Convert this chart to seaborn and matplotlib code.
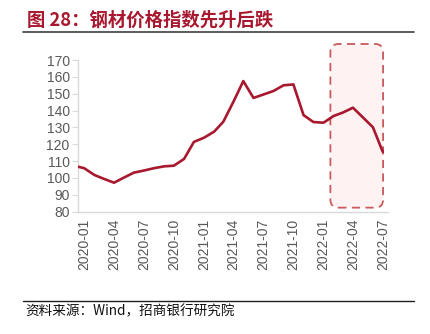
import numpy as np
import pandas as pd
import matplotlib
matplotlib.use("Agg")
import matplotlib.pyplot as plt
import seaborn as sns
from matplotlib.patches import FancyBboxPatch
from matplotlib.lines import Line2D
import matplotlib.dates as mdates

# ---- data ----
dates = ["2019-12-13",
         "2020-01-01", "2020-02-01", "2020-03-01", "2020-04-01", "2020-05-01", "2020-06-01",
         "2020-07-01", "2020-08-01", "2020-09-01", "2020-10-01", "2020-11-01", "2020-12-01",
         "2021-01-01", "2021-02-01", "2021-03-01", "2021-04-01", "2021-05-01", "2021-06-01",
         "2021-07-01", "2021-08-01", "2021-09-01", "2021-10-01", "2021-11-01", "2021-12-01",
         "2022-01-01", "2022-02-01", "2022-03-01", "2022-04-01", "2022-05-01", "2022-06-01",
         "2022-07-01"]
values = [106.7,
          105.8, 101.8, 99.5, 97.2, 100.2, 103.2,
          104.4, 105.8, 106.9, 107.3, 111.3, 121.4,
          123.9, 127.5, 133.4, 145.3, 157.5, 147.5,
          149.5, 151.6, 155.0, 155.5, 137.3, 133.2,
          132.8, 136.8, 138.8, 141.7, 136.0, 130.1,
          115.5]
tick_dates = ["2020-01-01", "2020-04-01", "2020-07-01", "2020-10-01", "2021-01-01",
              "2021-04-01", "2021-07-01", "2021-10-01", "2022-01-01", "2022-04-01",
              "2022-07-01"]
y_ticks = [80, 90, 100, 110, 120, 130, 140, 150, 160, 170]
highlight_start = "2022-01-22"
highlight_end = "2022-07-02"
highlight_low, highlight_high = 82.4, 179.5

title = "图 28：钢材价格指数先升后跌"
source = "资料来源：Wind，招商银行研究院"

df = pd.DataFrame({"date": pd.to_datetime(dates), "value": values})

sns.set_style("white")
plt.rcParams["font.family"] = ["Liberation Sans", "Noto Sans CJK SC", "DejaVu Sans"]

W, H = 430, 334
fig = plt.figure(figsize=(W / 100, H / 100), dpi=100)
ax = fig.add_axes([78 / W, 1 - 211.7 / H, 310 / W, (211.7 - 60) / H])

line_color = "#a8182e"
sns.lineplot(data=df, x="date", y="value", ax=ax, color=line_color, linewidth=1.9, zorder=3)

ax.set_ylim(80, 170)
ax.set_yticks(y_ticks)
ax.set_xlim(pd.Timestamp(dates[0]), pd.Timestamp("2022-07-17"))
ax.set_xticks(pd.to_datetime(tick_dates))
ax.xaxis.set_major_formatter(mdates.DateFormatter("%Y-%m"))
ax.set_xlabel("")
ax.set_ylabel("")

grey = "#595959"
for lab in ax.get_xticklabels():
    lab.set_rotation(90)
ax.tick_params(axis="x", labelsize=10, colors=grey, length=0, pad=5)
ax.tick_params(axis="y", labelsize=10, colors=grey, length=4, width=0.8, pad=2, left=True)
ax.tick_params(axis="y", color="#d9d9d9")
for lab in ax.get_yticklabels():
    lab.set_color(grey)

for s in ["top", "right"]:
    ax.spines[s].set_visible(False)
for s in ["left", "bottom"]:
    ax.spines[s].set_color("#d9d9d9")
    ax.spines[s].set_linewidth(1.0)

# highlight box (rounded, dashed) in pixel coordinates derived from data
fig.canvas.draw()
x0n = mdates.date2num(pd.Timestamp(highlight_start))
x1n = mdates.date2num(pd.Timestamp(highlight_end))
(px0, py0) = ax.transData.transform((x0n, highlight_low))
(px1, py1) = ax.transData.transform((x1n, highlight_high))
box = FancyBboxPatch((px0, py0), px1 - px0, py1 - py0,
                     boxstyle="round,pad=0,rounding_size=8",
                     transform=None, facecolor="#fff2f2", edgecolor="#c95a5d",
                     linewidth=1.3, linestyle=(0, (4.5, 3)), zorder=1, clip_on=False)
fig.patches.append(box)
ax.set_zorder(2)
ax.patch.set_alpha(0)

# title and rules
fig.text(27 / W, 1 - 20 / H, title, fontsize=13.2, fontweight="bold", color="#a8182e",
         family=["Noto Sans CJK SC", "DejaVu Sans"], va="center", ha="left")
fig.add_artist(Line2D([22.7 / W, 414 / W], [1 - 31.7 / H, 1 - 31.7 / H],
                      color="#404040", linewidth=1.2))
fig.add_artist(Line2D([22.7 / W, 414 / W], [1 - 300.7 / H, 1 - 300.7 / H],
                      color="#202020", linewidth=1.0))
fig.text(25 / W, 1 - 311 / H, source, fontsize=9.8, color="#111111",
         family=["Noto Sans CJK SC", "DejaVu Sans"], va="center", ha="left")

fig.savefig("out.png", dpi=100)
